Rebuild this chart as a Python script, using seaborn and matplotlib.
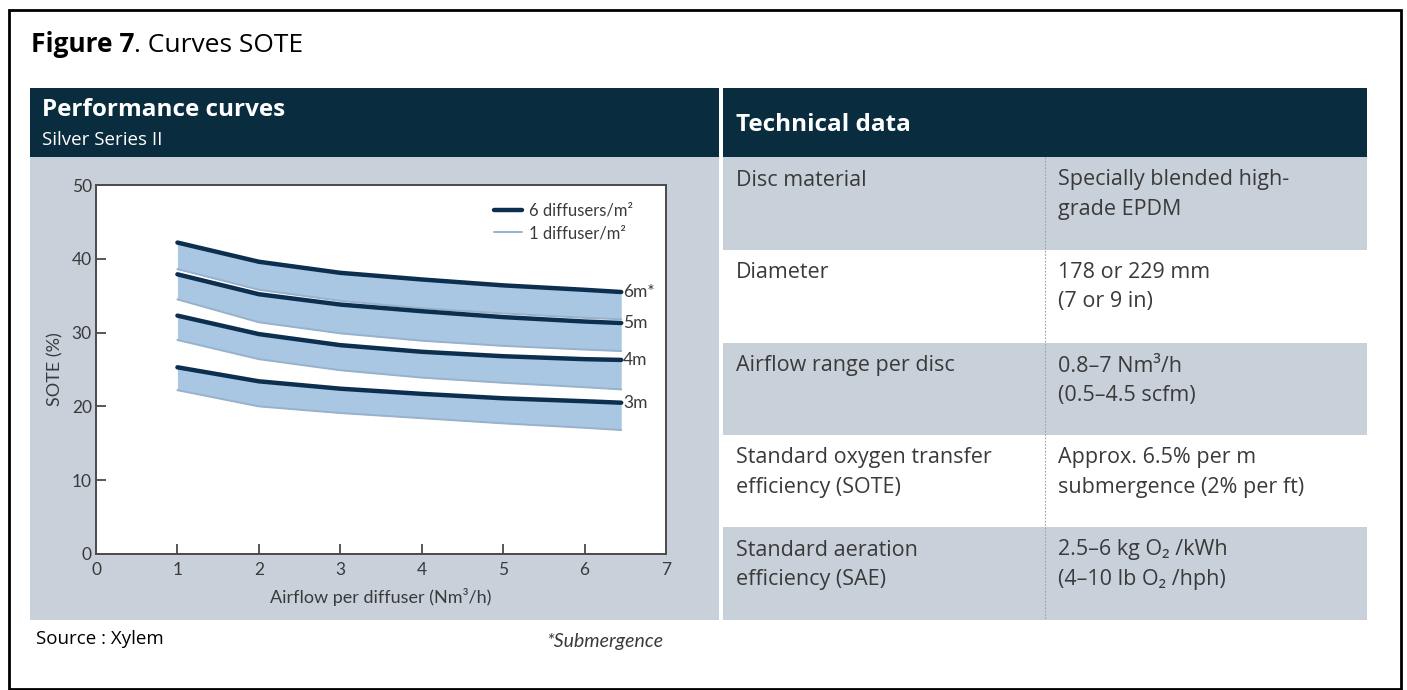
import matplotlib
matplotlib.use("Agg")
import matplotlib.pyplot as plt
import matplotlib.transforms as mtransforms
import seaborn as sns
import pandas as pd
from matplotlib.patches import Rectangle

# curve data
airflow = [1, 2, 3, 4, 5, 6, 6.45]
depths = ["6m*", "5m", "4m", "3m"]
sote_6_diffusers = {
    "6m*": [42.2, 39.6, 38.1, 37.2, 36.4, 35.8, 35.5],
    "5m": [37.9, 35.2, 33.8, 32.9, 32.1, 31.5, 31.3],
    "4m": [32.3, 29.8, 28.3, 27.4, 26.8, 26.4, 26.3],
    "3m": [25.3, 23.4, 22.4, 21.7, 21.1, 20.7, 20.5],
}
sote_1_diffuser = {
    "6m*": [38.6, 35.8, 34.3, 33.3, 32.6, 32.0, 31.8],
    "5m": [34.5, 31.4, 29.9, 28.9, 28.2, 27.7, 27.5],
    "4m": [29.0, 26.4, 24.9, 23.9, 23.2, 22.6, 22.3],
    "3m": [22.2, 20.0, 19.1, 18.4, 17.7, 17.1, 16.8],
}
x_ticks = [0, 1, 2, 3, 4, 5, 6, 7]
y_ticks = [0, 10, 20, 30, 40, 50]

table_labels = [
    "Disc material",
    "Diameter",
    "Airflow range per disc",
    "Standard oxygen transfer\nefficiency (SOTE)",
    "Standard aeration\nefficiency (SAE)",
]
table_values = [
    "Specially blended high-\ngrade EPDM",
    "178 or 229 mm\n(7 or 9 in)",
    "0.8–7 Nm³/h\n(0.5–4.5 scfm)",
    "Approx. 6.5% per m\nsubmergence (2% per ft)",
    "2.5–6 kg O₂ /kWh\n(4–10 lb O₂ /hph)",
]

sns.set_theme(style="white")
FONT = ["Lato", "DejaVu Sans"]
OPEN = ["Open Sans", "DejaVu Sans"]
plt.rcParams["font.family"] = FONT

navy = "#0a2c3f"
panel_grey = "#c8d1da"
dark_line = "#0d2f4f"
band = "#a9c6e3"
light_line = "#98b2cc"
txt = "#3a3a3a"

fig = plt.figure(figsize=(14.07, 6.9), dpi=100)
fig.patch.set_facecolor("white")

bg = fig.add_axes([0, 0, 1, 1], zorder=0)
bg.set_xlim(0, 1407)
bg.set_ylim(690, 0)
bg.axis("off")

# outer border
bg.add_patch(Rectangle((9, 10), 1392, 679, fill=False, edgecolor="black", lw=2))

# title: bold part then regular part
t1 = bg.text(31, 45, "Figure 7", fontsize=19, fontweight="bold", va="center",
             family=OPEN, color="black")
fig.canvas.draw()
x_after = t1.get_window_extent(fig.canvas.get_renderer()).x1
bg.text(x_after, 45, ". Curves SOTE", fontsize=19, va="center", family=OPEN,
        color="black",
        transform=mtransforms.blended_transform_factory(
            mtransforms.IdentityTransform(), bg.transData))

# left panel
bg.add_patch(Rectangle((30, 88), 689, 69, color=navy, lw=0))
bg.add_patch(Rectangle((30, 157), 689, 463, color=panel_grey, lw=0))
bg.text(42, 110, "Performance curves", fontsize=17.5, fontweight="bold",
        color="white", va="center", family=OPEN)
bg.text(42, 140, "Silver Series II", fontsize=13.5, color="white",
        va="center", family=OPEN)

# right panel (technical data table)
bg.add_patch(Rectangle((723, 88), 644, 69, color=navy, lw=0))
bg.text(736, 125, "Technical data", fontsize=17.5, fontweight="bold",
        color="white", va="center", family=OPEN)
row_edges = [157, 250, 343, 435, 527, 620]
for i, (lab, val) in enumerate(zip(table_labels, table_values)):
    y0, y1 = row_edges[i], row_edges[i + 1]
    fc = panel_grey if i % 2 == 0 else "white"
    bg.add_patch(Rectangle((723, y0), 644, y1 - y0, color=fc, lw=0))
    for k, line in enumerate(lab.split("\n")):
        bg.text(736, y0 + 23 + 29 * k, line, fontsize=15.5, color=txt,
                va="center", family=OPEN)
    for k, line in enumerate(val.split("\n")):
        bg.text(1058, y0 + 23 + 29 * k, line, fontsize=15.5, color=txt,
                va="center", family=OPEN)
bg.plot([1045, 1045], [157, 620], color="#9aa3ab", lw=0.8, ls=(0, (1.5, 1.5)))

# footer
bg.text(36, 639, "Source : Xylem", fontsize=13.5, color="black", va="center",
        family=OPEN)
bg.text(546, 641, "*Submergence", fontsize=14, style="italic", color=txt,
        va="center")

# chart
ax = fig.add_axes([96 / 1407, (690 - 554) / 690, 570 / 1407, (554 - 185) / 690],
                  zorder=1)
ax.set_facecolor("white")

for d in depths:
    ax.fill_between(airflow, sote_1_diffuser[d], sote_6_diffusers[d],
                    color=band, lw=0, zorder=1)

for d in depths:
    df_light = pd.DataFrame({"x": airflow, "y": sote_1_diffuser[d]})
    sns.lineplot(data=df_light, x="x", y="y", ax=ax, color=light_line, lw=1.4,
                 zorder=2, label="1 diffuser/m²" if d == "6m*" else None)
for d in depths:
    df_dark = pd.DataFrame({"x": airflow, "y": sote_6_diffusers[d]})
    sns.lineplot(data=df_dark, x="x", y="y", ax=ax, color=dark_line, lw=3.2,
                 zorder=3, label="6 diffusers/m²" if d == "6m*" else None)
    ax.text(airflow[-1] + 0.02, sote_6_diffusers[d][-1], d, fontsize=12.5,
            color=txt, va="center", ha="left")

handles, labels = ax.get_legend_handles_labels()
order = [labels.index("6 diffusers/m²"), labels.index("1 diffuser/m²")]
leg = ax.legend([handles[i] for i in order], [labels[i] for i in order],
                loc="upper right", bbox_to_anchor=(0.942, 0.952),
                frameon=False, fontsize=12, handlelength=1.7,
                handletextpad=0.4, borderaxespad=0, borderpad=0,
                labelspacing=0.38)
for t in leg.get_texts():
    t.set_color(txt)

ax.set_xlim(0, 7)
ax.set_ylim(0, 50)
ax.set_xticks(x_ticks)
ax.set_yticks(y_ticks)
ax.set_xticklabels([str(v) for v in x_ticks])
ax.set_yticklabels([str(v) for v in y_ticks])
ax.tick_params(axis="both", direction="in", length=7.5, width=1.3,
               color="#4a4a4a", labelcolor=txt, labelsize=12.5)
ax.tick_params(axis="x", pad=6)
ax.tick_params(axis="y", pad=3)
ax.tick_params(axis="both", which="both", bottom=True, left=True)
xl = ax.get_xticklines()[0::2]
xl[0].set_visible(False)
xl[-1].set_visible(False)
yl = ax.get_yticklines()[0::2]
yl[0].set_visible(False)
yl[-1].set_visible(False)
for s in ax.spines.values():
    s.set_visible(True)
    s.set_color("#4a4a4a")
    s.set_linewidth(1.4)
ax.set_xlabel("Airflow per diffuser (Nm³/h)", fontsize=13, color=txt, labelpad=7)
ax.set_ylabel("SOTE (%)", fontsize=13, color=txt, labelpad=6)

fig.savefig("out.png", dpi=100)
